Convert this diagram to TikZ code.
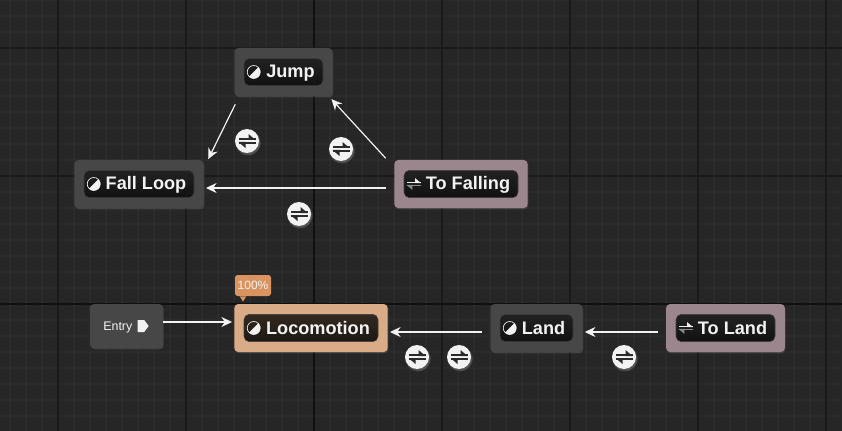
\documentclass[tikz,border=0pt]{standalone}
\usepackage{fontspec}
\setmainfont{Liberation Sans}
\usepackage{tikz}
\usetikzlibrary{arrows.meta,shadows}
\definecolor{gridbase}{HTML}{262626}
\definecolor{gridminor}{HTML}{2B2B2B}
\definecolor{gridmajor}{HTML}{1A1A1A}
\definecolor{gridcentre}{HTML}{101010}
\definecolor{stategrey}{HTML}{474747}
\definecolor{transmauve}{HTML}{9C868D}
\definecolor{activetan}{HTML}{D9AC87}
\definecolor{badgeorange}{HTML}{DA9460}
\definecolor{ink}{HTML}{F2F2F2}
\definecolor{glyphdark}{HTML}{2A2A2A}
\definecolor{glyphgrey}{HTML}{8A8A8A}
\definecolor{pilltop}{HTML}{222222}
\definecolor{pillbottom}{HTML}{111111}
\definecolor{activetop}{HTML}{33291F}
\definecolor{activebottom}{HTML}{1C1814}

\begin{document}
\begin{tikzpicture}[x=0.75pt, y=0.75pt, >={Stealth[length=8pt, width=7.5pt]},
  every node/.style={text=ink},
  statebox/.style={fill=stategrey, rounded corners=3pt, minimum height=36pt, inner sep=0pt, drop shadow={shadow xshift=0.5pt, shadow yshift=-1pt, opacity=0.3}},
  transbox/.style={statebox, fill=transmauve},
  activebox/.style={statebox, fill=activetan},
  entrybox/.style={statebox, minimum height=33pt, minimum width=54.75pt, text height=8pt, text depth=1pt, font=\fontsize{9.3}{11}\selectfont},
  pill/.style={top color=pilltop, bottom color=pillbottom, draw=black!75, rounded corners=4pt, minimum height=20.5pt, inner sep=0pt, text height=10pt, text depth=1pt, font=\fontsize{13.6}{16}\selectfont\bfseries},
  activepill/.style={pill, top color=activetop, bottom color=activebottom},
  badge/.style={fill=badgeorange, rounded corners=2pt, minimum width=27pt, minimum height=15.75pt, inner sep=0pt, font=\fontsize{9}{11}\selectfont},
  swapdot/.style={circle, fill=ink, minimum size=18pt, inner sep=0pt, circular drop shadow={shadow xshift=0.5pt, shadow yshift=-1pt, opacity=0.5}},
  link/.style={->, draw=ink, line width=0.9pt},
  halfdisc/.pic={\draw[ink!80, line width=0.5pt] (0,0) circle[radius=6.5]; \fill[ink] (4.6,4.6) arc (45:-135:6.5) -- cycle;},
  pics/swapglyph/.style 2 args={code={
    \fill[#1] (-8.5,1) rectangle (8.5,2.6); \fill[#1] (1.5,1) -- (1.5,7) -- (8.5,1) -- cycle;
    \fill[#2] (-8.5,-1) rectangle (8.5,-2.6); \fill[#2] (-1.5,-1) -- (-1.5,-7) -- (-8.5,-1) -- cycle;}},
  entryflag/.pic={\fill[ink] (-5.5,6) -- (1,6) -- (5.5,0) -- (1,-6) -- (-5.5,-6) -- cycle;}]
\fill[gridbase] (0,0) rectangle (842,-431);
\useasboundingbox (0,0) rectangle (842,-431);
\foreach \gx in {10,26,...,842} \draw[gridminor, line width=1.5pt] (\gx,0) -- (\gx,-431);
\foreach \gy in {0,16,...,431} \draw[gridminor, line width=1.5pt] (0,-\gy) -- (842,-\gy);
\foreach \gx in {58,186,442,570,698,826} \draw[gridmajor, line width=1.5pt] (\gx,0) -- (\gx,-431);
\foreach \gy in {48,176} \draw[gridmajor, line width=1.5pt] (0,-\gy) -- (842,-\gy);
\draw[gridcentre, line width=1.5pt] (314,0) -- (314,-431);
\draw[gridcentre, line width=1.5pt] (0,-304) -- (842,-304);

\node[statebox, minimum width=73.5pt] (jump) at (283.5,-72) {};
\node[pill, minimum width=59.25pt] (jumppill) at (jump) {\hspace*{10.5pt}Jump};
\node[statebox, minimum width=97pt] (fall) at (139,-184) {};
\node[pill, minimum width=82.5pt] (fallpill) at (fall) {\hspace*{10.5pt}Fall Loop};
\node[transbox, minimum width=100pt] (tofall) at (461,-184) {};
\node[pill, minimum width=85.5pt] (tofallpill) at (tofall) {\hspace*{10.5pt}To Falling};
\node[activebox, minimum width=115pt] (loco) at (311,-328) {};
\node[activepill, minimum width=100.5pt] (locopill) at (loco) {\hspace*{10.5pt}Locomotion};
\node[statebox, minimum width=69pt] (land) at (536.5,-328) {};
\node[pill, minimum width=54.75pt] (landpill) at (land) {\hspace*{10.5pt}Land};
\node[transbox, minimum width=89pt] (toland) at (725.5,-328) {};
\node[pill, minimum width=74.25pt] (tolandpill) at (toland) {\hspace*{10.5pt}To Land};
\node[entrybox] (entry) at (126.5,-326) {Entry\hspace*{13pt}};
\node[badge] (pct) at (253,-285.5) {100\%};
\fill[badgeorange] ([xshift=-10pt]pct.south) -- ([xshift=-5pt]pct.south) -- ([xshift=-7.5pt, yshift=-4pt]pct.south) -- cycle;

\pic at ([xshift=7.5pt]jumppill.west) {halfdisc};
\pic at ([xshift=7.5pt]fallpill.west) {halfdisc};
\pic at ([xshift=7.5pt]locopill.west) {halfdisc};
\pic at ([xshift=7.5pt]landpill.west) {halfdisc};
\pic[scale=0.85] at ([xshift=7.5pt]tofallpill.west) {swapglyph={ink}{glyphgrey}};
\pic[scale=0.85] at ([xshift=7.5pt]tolandpill.west) {swapglyph={ink}{glyphgrey}};
\pic at ([xshift=12.5pt]entry.center) {entryflag};

\draw[link, shorten <=6.75pt, shorten >=0.5pt] ([xshift=3.75pt]jump.south west) -- ([xshift=3pt]fall.north east);
\draw[link, shorten <=1.5pt, shorten >=3pt] ([xshift=-5.25pt]tofall.north west) -- ([xshift=-3pt]jump.south east);
\draw[link, shorten <=6pt, shorten >=1.5pt] ([yshift=-3pt]tofall.west) -- ([yshift=-3pt]fall.east);
\draw[link] ([yshift=3pt]entry.east) -- ([xshift=-1.5pt, yshift=4.5pt]loco.west);
\draw[link, shorten <=6pt, shorten >=1.5pt] ([yshift=-3pt]land.west) -- ([yshift=-3pt]loco.east);
\draw[link, shorten <=6pt, shorten >=1.5pt] ([yshift=-3pt]toland.west) -- ([yshift=-3pt]land.east);

\node[swapdot] (swapa) at (247,-141) {};
\node[swapdot] (swapb) at (341,-149) {};
\node[swapdot] (swapc) at (299,-214) {};
\node[swapdot] (swapd) at (417,-357) {};
\node[swapdot] (swape) at (459,-357) {};
\node[swapdot] (swapf) at (624,-357) {};
\foreach \sw in {swapa,swapb,swapc,swapd,swape,swapf} \pic at (\sw) {swapglyph={glyphdark}{glyphdark}};
\end{tikzpicture}
\end{document}
